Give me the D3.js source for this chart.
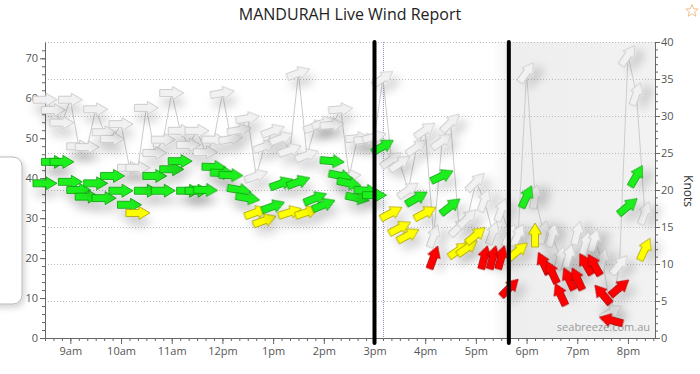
<!DOCTYPE html>
<html>
<head>
<meta charset="utf-8">
<title>MANDURAH Live Wind Report</title>
<script src="https://d3js.org/d3.v7.min.js"></script>
<style>
  body { margin: 0; background: #fff; }
  svg { display: block; font-family: "Open Sans", sans-serif; }
  .grid line { stroke: #bbb; stroke-dasharray: 1,2; }
  .axis path, .axis line { stroke: #666; }
  .axis text { fill: #555; font-size: 11px; font-family: "Open Sans", sans-serif; }
</style>
</head>
<body>
<svg id="chart" width="700" height="374"></svg>
<script>
// readings every 10 minutes starting 8:30am, speeds in knots
const startTime = new Date(2024, 0, 15, 8, 30);
const stepMinutes = 10;

const avgKnots = [
  20.9, 23.8, 23.8, 21.1, 20.0, 19.1, 20.9, 18.9, 21.9, 19.9,
  18.0, 16.9, 19.9, 21.9, 19.9, 22.8, 23.9, 19.9, 19.9, 20.0,
  23.1, 22.3, 22.0, 20.0, 18.9, 17.0, 15.9, 17.8, 20.9, 17.0,
  21.1, 17.0, 18.9, 18.0, 23.9, 21.9, 20.9, 18.9, 19.9, 19.3,
  25.9, 16.9, 14.9, 13.9, 18.9, 16.9, 10.9, 21.9, 17.8, 11.9,
  12.2, 13.9, 10.9, 10.9, 10.9, 6.8, 11.8, 19.1, 13.9, 10.1,
  8.9, 5.9, 8.0, 8.0, 10.0, 9.9, 5.9, 2.4, 6.8, 17.8,
  21.9, 12.0
];

const gustKnots = [
  32.2, 30.8, 29.1, 32.2, 25.9, 25.8, 30.9, 27.8, 26.9, 28.9,
  23.0, 23.0, 31.1, 25.0, 26.8, 33.1, 28.0, 26.1, 28.0, 25.1,
  26.8, 33.1, 26.9, 28.1, 29.7, 21.9, 25.9, 28.0, 27.0, 25.4,
  35.8, 24.7, 28.6, 29.1, 28.8, 30.9, 21.9, 27.0, 26.8, 27.2,
  35.1, 24.1, 23.6, 20.0, 25.8, 28.1, 13.8, 26.6, 29.1, 15.0,
  16.2, 21.1, 18.6, 14.2, 17.3, 13.9, 13.9, 35.9, 19.1, 14.3,
  13.9, 10.8, 11.1, 14.2, 12.8, 13.2, 10.5, 3.5, 9.9, 38.2,
  33.0, 16.9
];

// direction the wind comes from, degrees
const avgDirFrom = [
  270, 270, 270, 270, 270, 270, 270, 270, 270, 270,
  270, 270, 270, 270, 270, 270, 270, 270, 270, 272,
  272, 272, 272, 280, 280, 250, 250, 250, 250, 252,
  250, 252, 248, 248, 275, 282, 282, 282, 275, 270,
  240, 242, 242, 242, 240, 242, 200, 245, 232, 235,
  235, 230, 195, 195, 195, 225, 230, 205, 180, 155,
  155, 155, 155, 155, 150, 150, 140, 105, 230, 230,
  210, 205
];

const gustDirFrom = [
  270, 270, 270, 270, 270, 270, 270, 270, 270, 270,
  270, 270, 270, 270, 270, 270, 270, 270, 270, 270,
  270, 260, 260, 260, 260, 250, 250, 250, 250, 250,
  250, 250, 250, 250, 265, 265, 265, 265, 265, 255,
  235, 235, 235, 235, 235, 235, 200, 235, 225, 225,
  225, 225, 200, 200, 200, 205, 205, 215, 190, 195,
  195, 195, 195, 195, 195, 195, 195, 240, 220, 215,
  200, 200
];

const kmhTicks = [0, 10, 20, 30, 40, 50, 60, 70];
const knotTicks = [0, 5, 10, 15, 20, 25, 30, 35, 40];
const markerTimes = [[15, 0], [17, 39]];
const nowTime = [15, 10];
const shadeFrom = [17, 20];

const speedBreaks = [11.5, 17.5];
const fillColors = ["#ff0000", "#ffff00", "#1ef01e"];
const strokeColors = ["#a80000", "#a69c00", "#109a10"];

const KMH_PER_KNOT = 1.852;

const svg = d3.select("#chart");
const W = 700, H = 374;
const margin = { top: 42, right: 45, bottom: 36, left: 45 };
const plotW = W - margin.left - margin.right;
const plotH = H - margin.top - margin.bottom;

const at = (hm) => new Date(2024, 0, 15, hm[0], hm[1]);
const times = avgKnots.map((_, i) => d3.timeMinute.offset(startTime, i * stepMinutes));

const x = d3.scaleTime()
  .domain([at([8, 30]), at([20, 32])])
  .range([margin.left, margin.left + plotW]);
const yKnots = d3.scaleLinear().domain([0, 40]).range([margin.top + plotH, margin.top]);
const yKmh = d3.scaleLinear().domain([0, 40 * KMH_PER_KNOT]).range([margin.top + plotH, margin.top]);

const fill = d3.scaleThreshold().domain(speedBreaks).range(fillColors);
const edge = d3.scaleThreshold().domain(speedBreaks).range(strokeColors);

const defs = svg.append("defs");
const shadow = defs.append("filter").attr("id", "shadow")
  .attr("x", "-60%").attr("y", "-60%").attr("width", "220%").attr("height", "280%");
shadow.append("feDropShadow")
  .attr("dx", 2).attr("dy", 9).attr("stdDeviation", 5)
  .attr("flood-color", "#000").attr("flood-opacity", 0.18);

const boxShadow = defs.append("filter").attr("id", "boxShadow")
  .attr("x", "-50%").attr("y", "-20%").attr("width", "200%").attr("height", "140%");
boxShadow.append("feDropShadow")
  .attr("dx", 2).attr("dy", 3).attr("stdDeviation", 3)
  .attr("flood-color", "#000").attr("flood-opacity", 0.18);

const shadeGrad = defs.append("linearGradient").attr("id", "shade")
  .attr("x1", "0%").attr("x2", "100%").attr("y1", "0%").attr("y2", "0%");
shadeGrad.append("stop").attr("offset", "0%").attr("stop-color", "#ffffff");
shadeGrad.append("stop").attr("offset", "12%").attr("stop-color", "#eeeeee");
shadeGrad.append("stop").attr("offset", "100%").attr("stop-color", "#f2f2f2");

// evening shading
svg.append("rect")
  .attr("x", x(at(shadeFrom)))
  .attr("y", margin.top)
  .attr("width", margin.left + plotW - x(at(shadeFrom)))
  .attr("height", plotH)
  .attr("fill", "url(#shade)");

// grid lines at knot ticks
svg.append("g").attr("class", "grid")
  .selectAll("line")
  .data(knotTicks.filter(d => d > 0))
  .enter().append("line")
  .attr("x1", margin.left).attr("x2", margin.left + plotW)
  .attr("y1", d => yKnots(d) + 0.5).attr("y2", d => yKnots(d) + 0.5);

// left info panel (cut off)
svg.append("rect")
  .attr("x", -12).attr("y", 157).attr("width", 34).attr("height", 147)
  .attr("rx", 9)
  .attr("fill", "#fff").attr("stroke", "#b8b8b8")
  .attr("filter", "url(#boxShadow)");

// axes
const bottomY = margin.top + plotH;
svg.append("g").attr("class", "axis")
  .attr("transform", `translate(0,${bottomY})`)
  .call(d3.axisBottom(x).ticks(d3.timeMinute.every(10)).tickSize(3).tickSizeOuter(0).tickFormat(""));
svg.append("g").attr("class", "axis")
  .attr("transform", `translate(0,${bottomY})`)
  .call(d3.axisBottom(x).ticks(d3.timeHour.every(1)).tickSize(6).tickPadding(3).tickSizeOuter(0)
    .tickFormat(d => d3.timeFormat("%-I%p")(d).toLowerCase()))
  .call(g => g.select(".domain").remove());

svg.append("g").attr("class", "axis")
  .attr("transform", `translate(${margin.left},0)`)
  .call(d3.axisLeft(yKmh).tickValues(d3.range(0, 74, 2)).tickSize(3).tickSizeOuter(0).tickFormat(""));
svg.append("g").attr("class", "axis")
  .attr("transform", `translate(${margin.left},0)`)
  .call(d3.axisLeft(yKmh).tickValues(kmhTicks).tickSize(5).tickPadding(2))
  .call(g => g.select(".domain").remove());

const rightX = margin.left + plotW;
svg.append("g").attr("class", "axis")
  .attr("transform", `translate(${rightX},0)`)
  .call(d3.axisRight(yKnots).tickValues(d3.range(0, 41, 1)).tickSize(3).tickSizeOuter(0).tickFormat(""));
svg.append("g").attr("class", "axis")
  .attr("transform", `translate(${rightX},0)`)
  .call(d3.axisRight(yKnots).tickValues(knotTicks).tickSize(5).tickPadding(1))
  .call(g => g.select(".domain").remove());

svg.append("text")
  .attr("transform", `translate(684,${(margin.top + bottomY) / 2 + 1}) rotate(90)`)
  .attr("text-anchor", "middle")
  .attr("font-size", "12px").attr("fill", "#333")
  .text("Knots");

// watermark
svg.append("text")
  .attr("x", rightX - 5).attr("y", 331)
  .attr("text-anchor", "end")
  .attr("font-size", "11px").attr("fill", "#9a9a9a")
  .text("seabreeze.com.au");

// "now" marker
svg.append("line")
  .attr("x1", x(at(nowTime)) + 0.5).attr("x2", x(at(nowTime)) + 0.5)
  .attr("y1", margin.top).attr("y2", bottomY)
  .attr("stroke", "#7f90c4").attr("stroke-dasharray", "1,1");

// wind arrow shape, pointing +x, centred on the reading
const arrowPath = "M-12,-3.5 L1,-3.5 L1,-6.5 L12,0 L1,6.5 L1,3.5 L-12,3.5 Z";
const rot = (from) => (from + 180) - 90;

const gust = times.map((t, i) => ({ t, v: gustKnots[i], dir: gustDirFrom[i] }));
const avg = times.map((t, i) => ({ t, v: avgKnots[i], dir: avgDirFrom[i] }));

svg.append("path")
  .datum(gust)
  .attr("fill", "none")
  .attr("stroke", "#cccccc")
  .attr("stroke-width", 1)
  .attr("d", d3.line().x(d => x(d.t)).y(d => yKnots(d.v)));

svg.append("g").attr("class", "gusts")
  .selectAll("path")
  .data(gust)
  .enter().append("path")
  .attr("d", arrowPath)
  .attr("transform", d => `translate(${x(d.t)},${yKnots(d.v)}) rotate(${rot(d.dir)})`)
  .attr("fill", "#f1f1f1")
  .attr("stroke", "#cdcdcd")
  .attr("stroke-width", 1)
  .attr("filter", "url(#shadow)");

svg.append("g").attr("class", "avg")
  .selectAll("path")
  .data(avg)
  .enter().append("path")
  .attr("d", arrowPath)
  .attr("transform", d => `translate(${x(d.t)},${yKnots(d.v)}) rotate(${rot(d.dir)})`)
  .attr("fill", d => fill(d.v))
  .attr("stroke", d => edge(d.v))
  .attr("stroke-width", 0.8)
  .attr("filter", "url(#shadow)");

// black markers
svg.append("g").attr("class", "markers")
  .selectAll("line")
  .data(markerTimes)
  .enter().append("line")
  .attr("x1", d => x(at(d))).attr("x2", d => x(at(d)))
  .attr("y1", margin.top).attr("y2", bottomY + 5)
  .attr("stroke", "#000").attr("stroke-width", 4)
  .attr("stroke-linecap", "round");

// title and star
svg.append("text")
  .attr("x", 350).attr("y", 20)
  .attr("text-anchor", "middle")
  .attr("font-size", "16px").attr("fill", "#222")
  .text("MANDURAH Live Wind Report");

const star = d3.range(10).map(i => {
  const r = i % 2 === 0 ? 6.5 : 2.8;
  const a = -Math.PI / 2 + i * Math.PI / 5;
  return [692 + r * Math.cos(a), 11 + r * Math.sin(a)];
});
svg.append("polygon")
  .attr("points", star.map(p => p.join(",")).join(" "))
  .attr("fill", "none").attr("stroke", "#f2c08c").attr("stroke-width", 1);
</script>
</body>
</html>
